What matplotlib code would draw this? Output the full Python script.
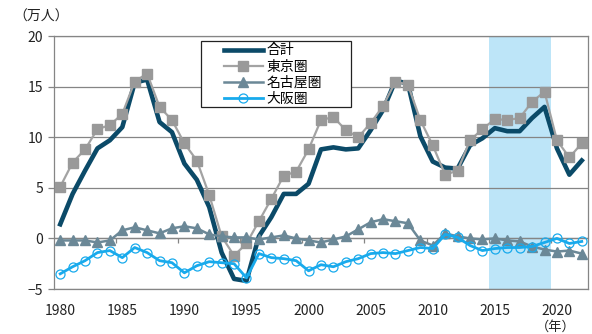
import numpy as np
import matplotlib
matplotlib.use("Agg")
import matplotlib.pyplot as plt
from matplotlib.patches import Rectangle

plt.rcParams['font.family'] = ['Noto Sans CJK JP', 'DejaVu Sans']

# net inflow (10k persons), 1980-2022
years = np.arange(1980, 2023)
total = [1.4, 4.4, 6.7, 8.9, 9.7, 11.0, 15.4, 15.7, 11.5, 10.5,
         7.4, 5.8, 3.1, -1.4, -4.0, -4.2, 0.2, 2.1, 4.4, 4.4,
         5.4, 8.8, 9.0, 8.8, 8.9, 10.7, 12.7, 15.6, 15.3, 10.1,
         7.6, 7.0, 6.9, 9.2, 9.9, 10.9, 10.6, 10.6, 11.9, 13.0,
         8.9, 6.3, 7.7]
tokyo = [5.1, 7.5, 8.8, 10.8, 11.2, 12.3, 15.5, 16.3, 13.0, 11.7,
         9.4, 7.7, 4.3, 0.2, -1.7, -0.5, 1.7, 3.9, 6.2, 6.6,
         8.8, 11.7, 12.0, 10.7, 10.0, 11.4, 13.1, 15.5, 15.2, 11.7,
         9.2, 6.3, 6.7, 9.7, 10.8, 11.8, 11.7, 11.9, 13.5, 14.5,
         9.7, 8.0, 9.4]
nagoya = [-0.2, -0.2, -0.2, -0.4, -0.2, 0.8, 1.1, 0.8, 0.5, 1.0,
          1.2, 1.0, 0.4, 0.2, 0.1, 0.1, -0.1, 0.1, 0.3, 0.0,
          -0.2, -0.4, -0.1, 0.2, 0.9, 1.6, 1.9, 1.7, 1.5, -0.2,
          -0.7, 0.5, 0.2, 0.0, -0.1, 0.0, -0.2, -0.3, -0.8, -1.1,
          -1.3, -1.2, -1.5]
osaka = [-3.5, -2.8, -2.2, -1.4, -1.2, -1.9, -0.9, -1.4, -2.2, -2.4,
         -3.4, -2.7, -2.3, -2.4, -2.5, -3.9, -1.5, -1.9, -2.0, -2.2,
         -3.2, -2.6, -2.8, -2.3, -2.0, -1.5, -1.4, -1.5, -1.2, -0.9,
         -1.0, 0.4, 0.1, -0.7, -1.2, -1.0, -0.9, -0.9, -0.8, -0.4,
         0.0, -0.5, -0.3]
labels = ['合計', '東京圏', '名古屋圏', '大阪圏']
xticks = [1980, 1985, 1990, 1995, 2000, 2005, 2010, 2015, 2020]
span = (2014.5, 2019.5)

grid_c = '#858585'

fig = plt.figure(figsize=(5.92, 3.34), dpi=100)
ax = fig.add_axes([0.0912, 0.1347, 0.9020, 0.7573])

ax.axvspan(*span, color='#bde5f8', zorder=0, lw=0)

ax.plot(years, total, color='#0b4a68', lw=3.3, solid_joinstyle='round',
        label=labels[0], zorder=3)
ax.plot(years, tokyo, color='#a3a3a3', lw=1.6, marker='s', ms=6.5,
        mfc='#999999', mec='#999999', label=labels[1], zorder=4)
ax.plot(years, nagoya, color='#6b8897', lw=1.8, marker='^', ms=6.5,
        mfc='#6b8897', mec='#6b8897', label=labels[2], zorder=5)
ax.plot(years, osaka, color='#18aaec', lw=2.0, marker='o', ms=6.5,
        mfc='none', mec='#18aaec', mew=0.9, label=labels[3], zorder=6)

ax.set_xlim(1979.5, 2022.5)
ax.set_ylim(-5, 20)
ax.set_yticks(np.arange(-5, 21, 5))
ax.set_xticks(xticks)
ax.yaxis.grid(True, color=grid_c, lw=0.9)
ax.set_axisbelow(True)
for s in ax.spines.values():
    s.set_color(grid_c)
    s.set_linewidth(0.9)
ax.tick_params(axis='x', length=0, pad=11, labelsize=10, colors='#222222')
ax.tick_params(axis='y', length=4, width=0.9, color=grid_c, pad=4,
               labelsize=10, labelcolor='#222222')

# category ticks along the zero line
ax.axhline(0, color=grid_c, lw=0.9, zorder=1)
ax.vlines(np.arange(1984.5, 2022, 5), -0.5, 0, color=grid_c, lw=0.9, zorder=1)

# legend box is wider than its entries, so draw the frame separately
ax.add_patch(Rectangle((0.2747, 0.719), 0.2815, 0.262, transform=ax.transAxes,
                       facecolor='white', edgecolor='#222222', lw=0.9,
                       zorder=7))
leg = ax.legend(loc='upper left', bbox_to_anchor=(0.318, 0.971),
                borderaxespad=0, frameon=False, fontsize=10,
                handlelength=2.8, handletextpad=0.3, labelspacing=0.16,
                borderpad=0)
leg.set_zorder(8)

fig.text(0.022, 1 - 17 / 334, '（万人）', fontsize=10, va='center', ha='left',
         color='#222222')
fig.text(556 / 592, 1 - 327 / 334, '（年）', fontsize=9.5, va='center',
         ha='center', color='#222222')

fig.savefig('out.png', dpi=100)
